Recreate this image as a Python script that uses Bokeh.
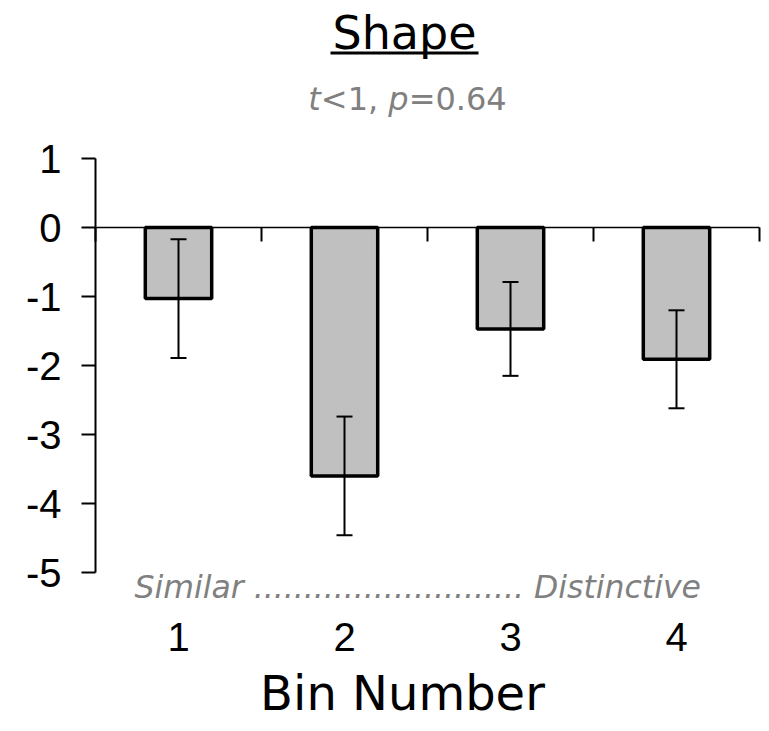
from bokeh.plotting import figure
from bokeh.models import (Range1d, LinearAxis, FixedTicker, Whisker, TeeHead,
                          Label, BoxAnnotation, ColumnDataSource)
from bokeh.embed import file_html
from bokeh.resources import INLINE

# --- data -------------------------------------------------------------
bins = ["1", "2", "3", "4"]
mean_change = [-1.03, -3.60, -1.47, -1.91]
sem = [0.86, 0.86, 0.68, 0.71]
y_ticks = [-5, -4, -3, -2, -1, 0, 1]
title_text = "Shape"
stat_parts = [("t", "italic"), ("<1, ", "normal"), ("p", "italic"), ("=0.64", "normal")]
axis_note = "Similar " + "." * 27 + "  Distinctive"
x_title = "Bin Number"

# --- layout: the frame fills the canvas, the value area sits inside it ---
W, H = 769, 731
AL, AR, AT, AB = 95, 759, 158, 572          # value area edges (canvas px)
XMIN, XMAX, YMIN, YMAX = 0.5, 4.5, -5, 1
PPX = (AR - AL) / (XMAX - XMIN)
PPY = (AB - AT) / (YMAX - YMIN)
BASE_SHIFT = 0.35                            # baseline correction, in em


def dx(px):
    return XMIN + (px - AL) / PPX


def dy(py):
    return YMAX - (py - AT) / PPY


def text_y(baseline_px, size_px):
    return dy(baseline_px - BASE_SHIFT * size_px)


xs = list(range(1, len(bins) + 1))
src = ColumnDataSource(dict(
    x=xs, top=[0] * len(xs), bottom=mean_change,
    upper=[m + s for m, s in zip(mean_change, sem)],
    lower=[m - s for m, s in zip(mean_change, sem)],
))

p = figure(width=W, height=H, output_backend="svg", toolbar_location=None,
           x_range=Range1d(dx(0), dx(W)), y_range=Range1d(dy(H), dy(0)),
           x_axis_type=None, y_axis_type=None, min_border=0)
p.outline_line_color = None
p.background_fill_color = "white"
p.border_fill_color = "white"

# bars
p.vbar(x="x", top="top", bottom="bottom", width=0.4, source=src,
       fill_color="#c0c0c0", line_color="black", line_width=3.5)

# error bars
head = dict(size=16, line_color="black", line_width=2)
err = Whisker(base="x", upper="upper", lower="lower", source=src,
              line_color="black", line_width=2,
              upper_head=TeeHead(**head), lower_head=TeeHead(**head),
              level="overlay")
p.add_layout(err)

# y axis
yax = LinearAxis(fixed_location=XMIN, bounds=(YMIN, YMAX),
                 ticker=FixedTicker(ticks=y_ticks),
                 major_label_overrides={t: str(t) for t in y_ticks})
yax.axis_line_color = "black"
yax.axis_line_width = 2
yax.major_tick_line_width = 2
yax.major_tick_out = 14
yax.major_tick_in = 0
yax.minor_tick_line_color = None
yax.major_label_standoff = 20
yax.major_label_text_font = "Liberation Sans"
yax.major_label_text_font_size = "40px"
yax.major_label_text_color = "black"
p.add_layout(yax, "left")

# zero line with bin separators
sep = [x - 0.5 for x in xs] + [xs[-1] + 0.5]
zax = LinearAxis(fixed_location=0, bounds=(XMIN, XMAX), ticker=FixedTicker(ticks=sep),
                 major_label_overrides={t: "" for t in sep})
zax.axis_line_color = "black"
zax.axis_line_width = 1.5
zax.major_tick_line_width = 2
zax.major_tick_out = 14
zax.major_tick_in = 0
zax.minor_tick_line_color = None
p.add_layout(zax, "below")

# bin labels
bax = LinearAxis(fixed_location=YMIN, ticker=FixedTicker(ticks=xs),
                 major_label_overrides={x: b for x, b in zip(xs, bins)})
bax.axis_line_color = None
bax.major_tick_line_color = None
bax.minor_tick_line_color = None
bax.major_label_standoff = 44
bax.major_label_text_font = "Liberation Sans"
bax.major_label_text_font_size = "40px"
bax.major_label_text_color = "black"
p.add_layout(bax, "below")

# title with underline
p.add_layout(Label(x=dx(404), y=text_y(49, 46), text=title_text, text_align="center",
                   text_baseline="alphabetic", text_font="DejaVu Sans",
                   text_font_size="46px", text_color="black"))
p.add_layout(BoxAnnotation(left=dx(330), right=dx(478), top=dy(51), bottom=dy(54),
                           fill_color="black", fill_alpha=1, line_color=None,
                           level="overlay"))

# statistics line (mixed italic / upright)
adv = {"t": 0.392, "<": 0.838, "1": 0.636, ",": 0.318, " ": 0.318, "p": 0.635,
       "=": 0.838, "0": 0.636, ".": 0.318, "6": 0.636, "4": 0.636}
fs = 32
total = sum(adv[c] for s, _ in stat_parts for c in s) * fs
cur = 407 - total / 2
for seg, style in stat_parts:
    p.add_layout(Label(x=dx(cur), y=text_y(110, fs), text=seg, text_align="left",
                       text_baseline="alphabetic", text_font="DejaVu Sans",
                       text_font_style=style, text_font_size=f"{fs}px",
                       text_color="#808080"))
    cur += sum(adv[c] for c in seg) * fs

# similarity note under the plot
p.add_layout(Label(x=dx(134), y=text_y(598, 31.5), text=axis_note, text_align="left",
                   text_baseline="alphabetic", text_font="DejaVu Sans",
                   text_font_style="italic", text_font_size="31.5px",
                   text_color="#808080"))

# x title
p.add_layout(Label(x=dx(402), y=text_y(709, 48), text=x_title, text_align="center",
                   text_baseline="alphabetic", text_font="DejaVu Sans",
                   text_font_size="48px", text_color="black"))

open("out.html", "w").write(file_html(p, INLINE))
